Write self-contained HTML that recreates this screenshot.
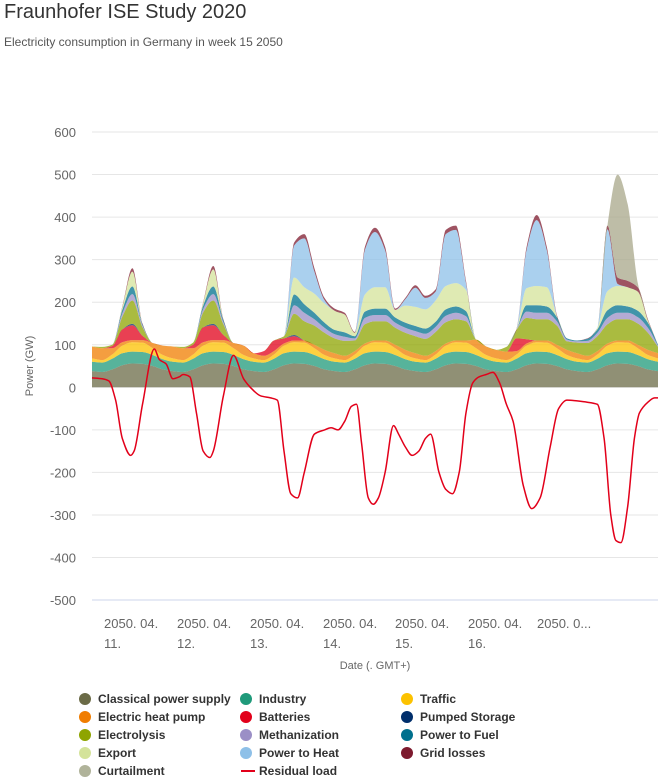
<!DOCTYPE html>
<html><head><meta charset="utf-8">
<style>
body{margin:0;background:#fff;font-family:"Liberation Sans",sans-serif;}
#wrap{position:relative;width:662px;height:783px;overflow:hidden;}
.t{position:absolute;white-space:nowrap;}
.lg{position:absolute;font-size:12px;font-weight:bold;color:#333;white-space:nowrap;}
.dot{position:absolute;width:12px;height:12px;border-radius:6px;}
</style></head>
<body>
<div id="wrap">
<div class="t" style="left:4px;top:1px;font-size:20px;color:#333;">Fraunhofer ISE Study 2020</div>
<div class="t" style="left:4px;top:35px;font-size:12px;color:#555;">Electricity consumption in Germany in week 15 2050</div>
<svg id="chart" width="662" height="783" style="position:absolute;left:0;top:0"></svg>
<div id="legend"></div>
</div>
<script>
const hours=[0,3,6,9,12,15,18,21,24,27,30,33,36,39,42,45,48,51,54,57,60,63,66,69,72,75,78,81,84,87,90,93,96,99,102,105,108,111,114,117,120,123,126,129,132,135,138,141,144,147,150,153,156,159,162,165,168];
const classical=[38,36,42,52,56,55,50,42,38,36,42,52,56,55,50,42,38,36,42,52,56,55,50,42,38,36,42,52,56,55,50,42,38,36,42,52,56,55,50,42,38,36,42,52,56,55,50,42,38,36,42,52,56,55,50,42,38];
const industry=[22,22,25,28,28,28,26,24,22,22,25,28,28,28,26,24,22,22,25,28,28,28,26,24,22,22,25,28,28,28,26,24,22,22,25,28,28,28,26,24,22,22,25,28,28,28,26,24,22,22,25,28,28,28,26,24,22];
const traffic=[8,6,10,18,22,22,16,10,8,6,10,18,22,22,16,10,8,6,10,18,22,22,16,10,8,6,10,18,22,22,16,10,8,6,10,18,22,22,16,10,8,6,10,18,22,22,16,10,8,6,10,18,22,22,16,10,8];
const heatPump=[28,28,15,8,5,6,12,22,28,28,15,8,5,6,12,22,12,10,8,5,4,5,8,12,12,10,8,5,4,5,8,12,12,10,8,5,4,5,20,20,20,20,8,5,4,5,8,12,12,10,8,5,4,5,8,12,12];
const batteries=[0,0,5,30,35,10,0,0,0,0,8,35,35,12,0,0,0,11,25,12,10,0,0,0,0,0,0,0,0,0,0,0,0,0,0,0,0,0,0,0,0,0,30,10,0,0,0,0,0,0,0,0,0,0,0,0,0];
const pumped=[0,0,0,0,3,0,0,0,0,0,0,0,3,0,0,0,0,0,0,0,3,0,0,0,0,0,0,0,0,0,0,0,0,0,0,0,0,0,0,0,0,0,0,0,0,0,0,0,0,0,0,0,0,0,0,0,0];
const electrolysis=[0,3,3,30,55,20,0,0,0,3,5,35,55,25,0,0,0,0,0,5,50,45,45,40,35,35,25,45,45,45,40,40,40,40,45,50,50,45,0,0,0,11,20,50,50,50,45,20,25,30,35,45,50,50,50,40,15];
const methanization=[0,0,0,8,15,4,0,0,0,0,0,8,15,5,0,0,0,0,0,0,20,20,15,12,10,10,5,15,15,15,12,12,12,12,12,15,15,12,0,0,0,0,0,15,15,15,10,4,3,5,8,15,15,15,15,12,3];
const powerToFuel=[0,0,0,8,18,3,0,0,0,0,0,8,18,5,0,0,0,0,0,0,25,20,15,12,10,10,5,15,15,15,12,12,12,12,12,15,15,12,0,0,0,0,0,15,18,15,10,3,2,5,8,18,18,15,15,12,2];
const exportLoad=[0,0,0,6,35,0,0,0,0,0,0,6,40,0,0,0,0,0,0,0,40,40,45,45,45,42,8,40,50,50,18,40,45,45,50,55,55,50,0,0,0,0,0,40,45,45,2,0,0,0,4,45,45,45,45,5,0];
const powerToHeat=[0,0,0,0,0,0,0,0,0,0,0,0,0,0,0,0,0,0,0,0,75,115,52,8,0,0,0,105,130,87,0,15,45,27,21,122,125,16,0,0,0,0,0,90,155,87,0,0,0,0,0,145,5,0,0,0,0];
const gridLosses=[0,0,0,2,8,2,0,0,0,0,0,2,8,2,0,0,0,0,0,0,7,10,8,5,5,4,2,7,10,8,3,3,6,5,5,10,10,5,0,0,0,0,2,7,12,8,3,0,0,1,0,9,15,15,10,3,0];
const curtailment=[0,0,0,0,0,0,0,0,0,0,0,0,0,0,0,0,0,0,0,0,0,0,0,0,0,0,0,0,0,0,0,0,0,0,0,0,0,0,0,0,0,0,0,0,0,0,0,0,0,0,0,0,242,180,10,0,0];
const resHours=[0,3,5,7,9,11.5,12.5,15,18.5,20,22,24,26,27,29,31,33,35,36,39,42,45,47,50,53,55,57,59,61,63,66,69,71,73,75,77,78.5,80,82,83.5,85,87,89.5,91,93,95,97,99,100.5,103,105,107,109,111,113,115,117,119,121,123,125,128,130.5,133,136,138.5,141,144,147,150,152,154,155.5,157,159,161,162.5,165,167,168];
const residual=[22,20,15,-30,-120,-160,-150,-40,90,65,55,20,25,30,25,-60,-150,-165,-150,-20,75,20,0,-20,-25,-30,-150,-250,-260,-200,-110,-100,-95,-100,-80,-45,-40,-130,-260,-275,-260,-200,-90,-110,-140,-160,-150,-120,-110,-200,-240,-250,-200,-60,10,25,30,35,10,-40,-80,-230,-285,-260,-140,-50,-30,-32,-35,-40,-120,-300,-360,-365,-280,-120,-60,-35,-25,-25];
const yTicks=[600,500,400,300,200,100,0,-100,-200,-300,-400,-500];
const dayLabels=["11.","12.","13.","14.","15.","16.",""];

const svg=document.getElementById('chart');
const NS='http://www.w3.org/2000/svg';
const X0=92,X1=658,Y0=387.3,K=0.4255;
function xs(h){return X0+h*(X1-X0)/168;}
function ys(v){return Y0-v*K;}
function mk(tag,attrs){const e=document.createElementNS(NS,tag);for(const k in attrs)e.setAttribute(k,attrs[k]);svg.appendChild(e);return e;}
// monotone cubic path through points (continuing an existing path)
function curve(px,py,start){
  const n=px.length,m=[],dl=[];
  for(let i=0;i<n-1;i++)dl.push((py[i+1]-py[i])/(px[i+1]-px[i]));
  for(let i=0;i<n;i++){
    if(i===0)m.push(dl[0]);else if(i===n-1)m.push(dl[n-2]);
    else if(dl[i-1]*dl[i]<=0)m.push(0);
    else m.push(2/(1/dl[i-1]+1/dl[i]));
  }
  let d=(start?'M':'L')+px[0].toFixed(1)+','+py[0].toFixed(1);
  for(let i=0;i<n-1;i++){
    const h=(px[i+1]-px[i])/3;
    d+='C'+(px[i]+h).toFixed(1)+','+(py[i]+m[i]*h).toFixed(1)+' '+(px[i+1]-h).toFixed(1)+','+(py[i+1]-m[i+1]*h).toFixed(1)+' '+px[i+1].toFixed(1)+','+py[i+1].toFixed(1);
  }
  return d;
}

yTicks.forEach(v=>{
  const g=mk('line',{x1:X0,x2:X1,y1:ys(v),y2:ys(v),stroke:v===-500?'#ccd6eb':'#e6e6e6','stroke-width':1});
  
  
  const t=mk('text',{x:76,y:ys(v)+5,'text-anchor':'end','font-size':13,fill:'#666','font-family':'Liberation Sans, sans-serif'});
  t.textContent=v;
  
  
});
const yt=mk('text',{x:0,y:0,'font-size':11,fill:'#666','font-family':'Liberation Sans, sans-serif','text-anchor':'middle',transform:'translate(33,366) rotate(-90)'});
yt.textContent='Power (GW)';



const series=[
 ['classical-area',classical,'#6b6b47'],['industry-area',industry,'#1f9a7a'],['traffic-area',traffic,'#fcc200'],
 ['heat-pump-area',heatPump,'#f07d00'],['batteries-area',batteries,'#e2001a'],['pumped-storage-area',pumped,'#002e6b'],
 ['electrolysis-area',electrolysis,'#8ea400'],['methanization-area',methanization,'#9b8fc6'],['power-to-fuel-area',powerToFuel,'#00708d'],
 ['export-area',exportLoad,'#d4e39a'],['power-to-heat-area',powerToHeat,'#8ec0e8'],['grid-losses-area',gridLosses,'#7d1a2e'],
 ['curtailment-area',curtailment,'#a8a78a']];
let base=hours.map(()=>0);
const px=hours.map(xs);
series.forEach(([name,vals,col])=>{
  const top=base.map((b,i)=>b+vals[i]);
  let d=curve(px,top.map(ys),true);
  d+=curve(px.slice().reverse(),base.map(ys).reverse(),false);
  const p=mk('path',{d:d+'Z',fill:col,'fill-opacity':0.75,stroke:'none'});
  
  
  base=top;
});
const rl=mk('path',{d:curve(resHours.map(xs),residual.map(ys),true),fill:'none',stroke:'#e2001a','stroke-width':1.5});



const labX=[104,177,250,323,395,468,537];
dayLabels.forEach((d,i)=>{
  const t=mk('text',{x:labX[i],y:628,'font-size':13,fill:'#666','font-family':'Liberation Sans, sans-serif'});
  t.textContent=i===6?'2050. 0...':'2050. 04.';
  
  
  if(d){const t2=mk('text',{x:labX[i],y:648,'font-size':13,fill:'#666','font-family':'Liberation Sans, sans-serif'});
  t2.textContent=d;
  
  }
});
const xt=mk('text',{x:375,y:669,'font-size':11,fill:'#666','text-anchor':'middle','font-family':'Liberation Sans, sans-serif'});
xt.textContent='Date (. GMT+)';



const legendItems=[
 ['Classical power supply','#6b6b47',0,0],['Industry','#1f9a7a',1,0],['Traffic','#fcc200',2,0],
 ['Electric heat pump','#f07d00',0,1],['Batteries','#e2001a',1,1],['Pumped Storage','#002e6b',2,1],
 ['Electrolysis','#8ea400',0,2],['Methanization','#9b8fc6',1,2],['Power to Fuel','#00708d',2,2],
 ['Export','#d4e39a',0,3],['Power to Heat','#8ec0e8',1,3],['Grid losses','#7d1a2e',2,3],
 ['Curtailment','#b0b39a',0,4],['Residual load','line',1,4]];
const colX=[78,239,400],lg=document.getElementById('legend');
legendItems.forEach(([n,c,col,row])=>{
  const y=692+row*18;
  const item=document.createElement('div');
  
  
  const mkr=document.createElement('div');
  if(c==='line'){mkr.style.cssText='position:absolute;left:'+(colX[col]+2)+'px;top:'+(y+6)+'px;width:14px;height:2px;background:#e2001a;';}
  else{mkr.className='dot';mkr.style.cssText='left:'+(colX[col]+1)+'px;top:'+(y+1)+'px;background:'+c+';';}
  const tx=document.createElement('div');tx.className='lg';tx.style.left=(colX[col]+20)+'px';tx.style.top=y+'px';tx.textContent=n;
  item.appendChild(mkr);item.appendChild(tx);lg.appendChild(item);
});
</script>
</body></html>
